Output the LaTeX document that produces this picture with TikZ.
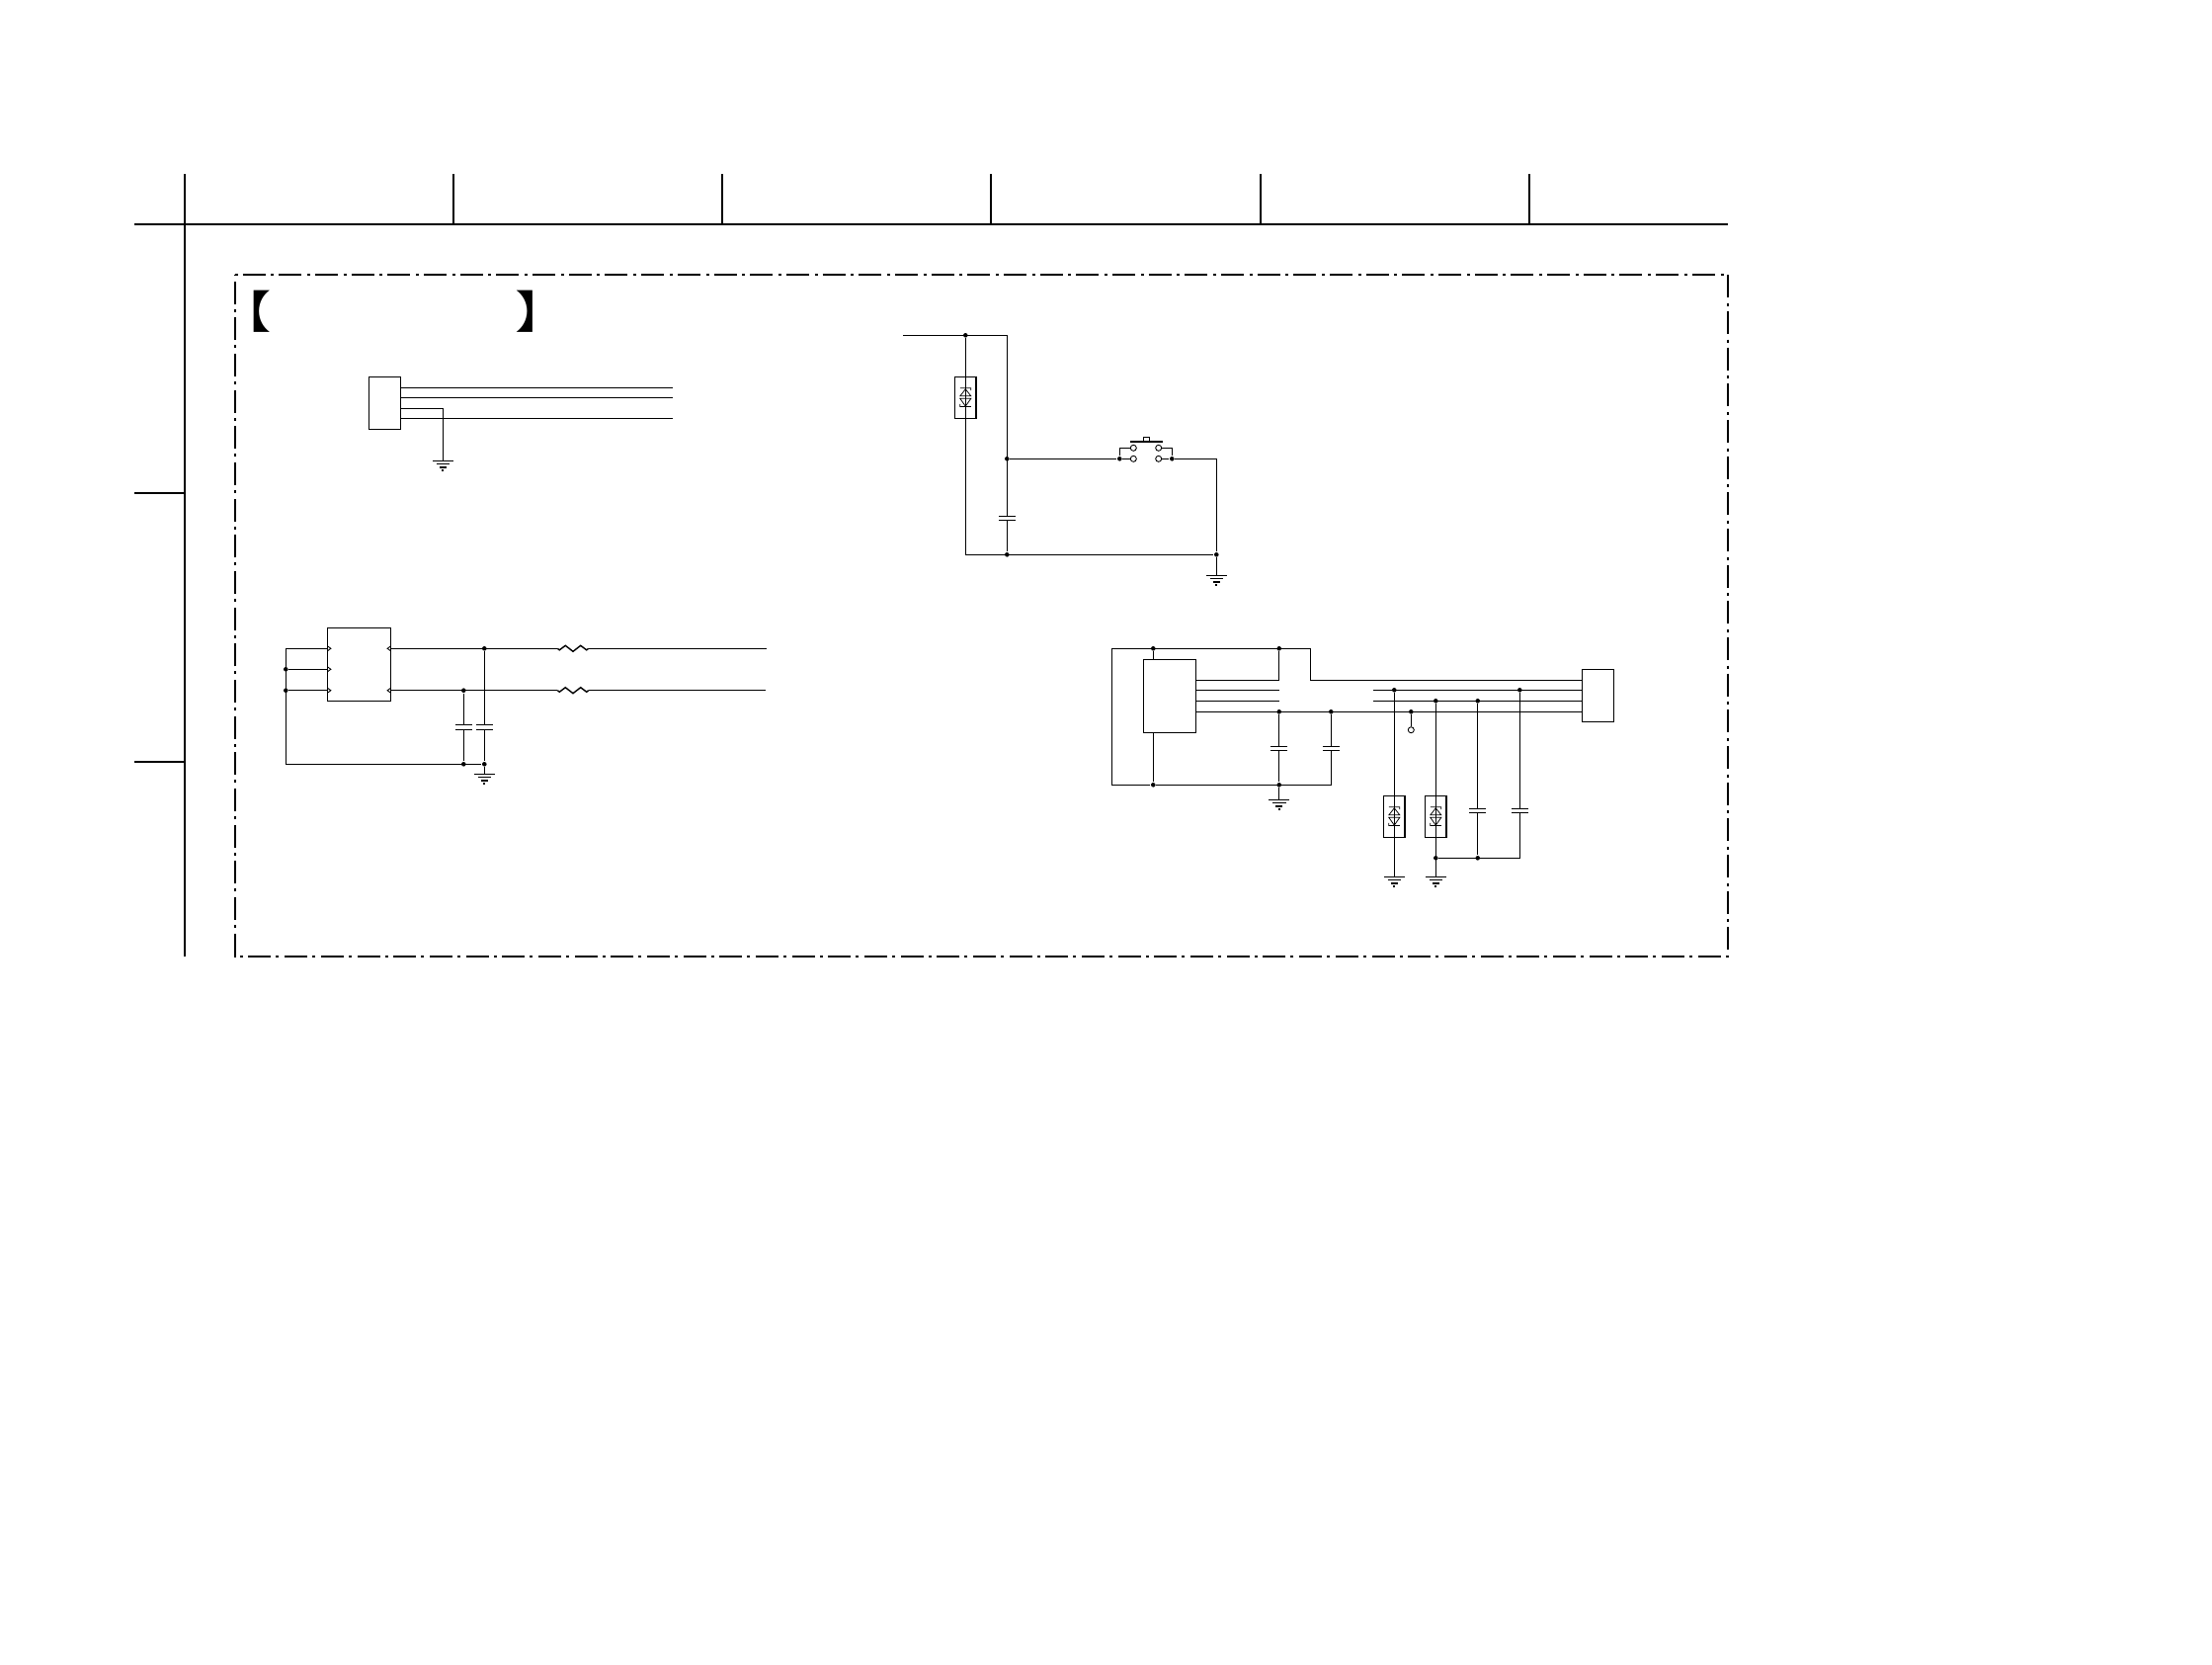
\documentclass[tikz,border=0pt]{standalone}
\usepackage{fontspec}
\usepackage{tikz}
\newfontfamily\cjk{Noto Sans CJK JP}

\tikzset{
    wire/.style={line width=0.4pt},
    rule/.style={line width=0.6pt},
    sheet/.style={line width=0.55pt, dash pattern=on 0.85pt off 1.42pt on 6.54pt off 1.62pt},
    dot/.style={draw=none, fill=black, circle, inner sep=0pt, minimum size=0.046cm},
    pad/.style={draw, fill=white, circle, inner sep=0pt, line width=0.25pt, minimum size=0.06cm},
    box/.style={draw, rectangle, inner sep=0pt, outer sep=0pt, line width=0.4pt},
    bracket/.style={inner sep=0pt, font=\cjk\fontsize{12.9}{12.9}\selectfont},
    pics/gnd/.style={code={
        \draw[wire] (-10.5,0) -- (10.5,0) (-6.8,3.3) -- (6.8,3.3) (-3.5,6.5) -- (3.5,6.5) (-1,9.7) -- (1,9.7);
    }},
    pics/cap/.style={code={
        \coordinate (-a) at (0,-#1);
        \coordinate (-b) at (0,#1);
        \draw[wire] (-8.5,-#1) -- (8.5,-#1) (-8.5,#1) -- (8.5,#1);
    }},
    pics/cap/.default=2,
    pics/res/.style={code={
        \coordinate (-a) at (0,0);
        \coordinate (-b) at (31.4,0);
        \draw[wire] (-a) -- (2,1.5) -- (8,-3) -- (15.7,3) -- (23.4,-3) -- (29.4,1.5) -- (-b);
    }},
    pics/tvs/.style={code={
        \node[box, minimum width=0.212cm, minimum height=0.42cm] at (0,0) {};
        \draw[line width=0.22pt] (-5.5,-9.5) -- (5.5,-9.5) -- (5.5,-7.3)
            (0,-8.5) -- (5.5,-1.5) -- (-5.5,-1.5) -- cycle
            (0,8.8) -- (5.5,1) -- (-5.5,1) -- cycle
            (-5.5,6.5) -- (-5.5,9.2) -- (5.5,9.2);
    }},
    pics/pinr/.style={code={
        \draw[line width=0.25pt] (0,-2.6) -- (3.6,0) -- (0,2.6);
    }},
    pics/pinl/.style={code={
        \draw[line width=0.25pt] (0,-2.6) -- (-3.6,0) -- (0,2.6);
    }}
}

\begin{document}
\begin{tikzpicture}[x=0.01cm, y=-0.01cm]
    \useasboundingbox (0,0) rectangle (2239,1684);

    % page grid
    \coordinate (top) at (186.7,176);
    \coordinate (corner) at (186.7,226.7);
    \coordinate (foot) at (186.7,967.7);
    \coordinate (gridl) at (136,226.7);
    \coordinate (gridr) at (1749,226.7);
    \draw[rule] (top) -- (foot);
    \draw[rule] (gridl) -- (gridr);
    \foreach \xa/\name in {458.7/a, 731/b, 1003/c, 1275.7/d, 1548/e} {
        \coordinate (tick\name) at (\xa,176);
        \draw[rule] (tick\name) -- (tick\name |- corner);
    }
    \foreach \ya/\name in {499/f, 771/g} {
        \coordinate (tick\name) at (136,\ya);
        \draw[rule] (tick\name) -- (tick\name -| corner);
    }

    \coordinate (sheeta) at (237.7,277.7);
    \coordinate (sheetb) at (1749,277.7);
    \coordinate (sheetc) at (1749,967.7);
    \coordinate (sheetd) at (237.7,967.7);
    \draw[sheet] (sheeta) -- (sheetb) -- (sheetc) -- (sheetd) -- cycle;

    \node[bracket] (open) at (248,315.5) {\scalebox{1.18}[1]{【}};
    \node[bracket] (close) at (548,315.5) {\scalebox{1.18}[1]{】}};

    % connector top left
    \node[box, minimum width=0.324cm, minimum height=0.534cm] (con1) at (389.5,408) {};
    \coordinate (con1a) at (680.7,392.3);
    \coordinate (con1b) at (680.7,402.3);
    \coordinate (con1c) at (448.3,413.3);
    \coordinate (con1d) at (680.7,423.3);
    \coordinate (gnd1) at (448.3,466.3);
    \draw[wire] (con1a -| con1.east) -- (con1a);
    \draw[wire] (con1b -| con1.east) -- (con1b);
    \draw[wire] (con1c -| con1.east) -- (con1c) -- (gnd1);
    \draw[wire] (con1d -| con1.east) -- (con1d);
    \pic at (gnd1) {gnd};

    % regulator
    \node[box, minimum width=0.644cm, minimum height=0.74cm] (reg) at (363.5,672.3) {};
    \node[dot] (reg1) at (289.3,677.3) {};
    \node[dot] (reg2) at (289.3,698.7) {};
    \node[dot] (reg3) at (490.3,656.3) {};
    \node[dot] (reg4) at (469.3,698.7) {};
    \node[dot] (reg5) at (469.3,773.3) {};
    \node[dot] (reg6) at (490.3,773.3) {};
    \coordinate (rega) at (289.3,656.3);
    \coordinate (regb) at (289.3,773.3);
    \coordinate (gnd2) at (490.3,783.3);
    \coordinate (outa) at (776,656.3);
    \coordinate (outb) at (775,698.7);
    \pic (c1) at (469.3,736) {cap=2.6};
    \pic (c2) at (490.3,736) {cap=2.6};
    \pic (r1) at (564.3,656.3) {res};
    \pic (r2) at (564.3,698.7) {res};
    \draw[wire] (rega -| reg.west) -- (rega) -- (regb) -- (reg6) -- (gnd2);
    \draw[wire] (reg1) -- (reg1 -| reg.west);
    \draw[wire] (reg2) -- (reg2 -| reg.west);
    \draw[wire] (reg3 -| reg.east) -- (r1-a) (r1-b) -- (outa);
    \draw[wire] (reg4 -| reg.east) -- (r2-a) (r2-b) -- (outb);
    \draw[wire] (reg4) -- (c1-a) (c1-b) -- (reg5);
    \draw[wire] (reg3) -- (c2-a) (c2-b) -- (reg6);
    \pic at (gnd2) {gnd};
    \pic at (rega -| reg.west) {pinr};
    \pic at (reg1 -| reg.west) {pinr};
    \pic at (reg2 -| reg.west) {pinr};
    \pic at (reg3 -| reg.east) {pinl};
    \pic at (reg4 -| reg.east) {pinl};

    % reset switch
    \coordinate (swin) at (914,339.3);
    \coordinate (swa) at (1019.3,339.3);
    \coordinate (swb) at (977.3,561.3);
    \coordinate (gnd3) at (1231.3,582.3);
    \coordinate (swc) at (1231.3,464.3);
    \node[dot] (sw1) at (977.3,339.3) {};
    \node[dot] (sw2) at (1019.3,464.3) {};
    \node[dot] (sw3) at (1019.3,561.3) {};
    \node[dot] (sw4) at (1231.3,561.3) {};
    \node[dot] (sw5) at (1133.3,464.3) {};
    \node[dot] (sw6) at (1186.3,464.3) {};
    \node[pad] (sw7) at (1147.3,464.3) {};
    \node[pad] (sw8) at (1147.3,453.3) {};
    \node[pad] (sw9) at (1172.7,464.3) {};
    \node[pad] (sw10) at (1172.7,453.3) {};
    \node[box, fill=white, minimum width=0.064cm, minimum height=0.05cm] (swcap) at (1160.5,444.7) {};
    \coordinate (swbara) at (1144,447);
    \coordinate (swbarb) at (1176.7,447);
    \pic (c3) at (1019.3,524.3) {cap};
    \pic at (977.3,402.3) {tvs};
    \draw[wire] (swin) -- (swa) -- (c3-a) (c3-b) -- (sw3);
    \draw[wire] (sw1) -- (swb) -- (sw4) -- (gnd3);
    \draw[wire] (sw2) -- (sw5) -- (sw7);
    \draw[wire] (sw5) |- (sw8);
    \draw[wire] (sw9) -- (sw6) -- (swc) -- (sw4);
    \draw[wire] (sw10) -| (sw6);
    \draw[line width=0.6pt] (swbara) -- (swbarb);
    \pic at (gnd3) {gnd};

    % chip and connector bottom right
    \node[box, minimum width=0.534cm, minimum height=0.74cm] (ic) at (1184,704.3) {};
    \node[box, minimum width=0.32cm, minimum height=0.534cm] (con2) at (1617.3,704) {};
    \node[dot] (ic1) at (1167.3,656.3) {};
    \node[dot] (ic2) at (1294.7,656.3) {};
    \node[dot] (ic3) at (1167.3,794.3) {};
    \node[dot] (ic4) at (1294.7,794.3) {};
    \node[dot] (ic5) at (1294.7,720.3) {};
    \node[dot] (ic6) at (1347.3,720.3) {};
    \node[dot] (ic7) at (1428.3,720.3) {};
    \node[dot] (ic8) at (1411.3,698.3) {};
    \node[dot] (ic9) at (1538.3,698.3) {};
    \node[dot] (ic10) at (1453.3,709.3) {};
    \node[dot] (ic11) at (1495.7,709.3) {};
    \node[dot] (ic12) at (1453.3,868.3) {};
    \node[dot] (ic13) at (1495.7,868.3) {};
    \node[pad] (test) at (1428.3,738.7) {};
    \coordinate (ica) at (1125.3,656.3);
    \coordinate (icb) at (1125.3,794.3);
    \coordinate (icc) at (1347.3,794.3);
    \coordinate (icd) at (1326.7,656.3);
    \coordinate (ice) at (1326.7,688.3);
    \coordinate (icf) at (1294.7,688.3);
    \coordinate (icg) at (1294.7,698.3);
    \coordinate (ich) at (1294.7,709.3);
    \coordinate (ici) at (1390,698.3);
    \coordinate (icj) at (1390,709.3);
    \coordinate (ick) at (1538.3,868.3);
    \coordinate (gnd4) at (1294.7,809.3);
    \coordinate (gnd5) at (1411.3,887.3);
    \coordinate (gnd6) at (1453.3,887.3);
    \pic (c4) at (1294.7,757.3) {cap};
    \pic (c5) at (1347.3,757.3) {cap};
    \pic (c6) at (1495.7,820.3) {cap};
    \pic (c7) at (1538.3,820.3) {cap};
    \pic at (1411.3,826.3) {tvs};
    \pic at (1453.3,826.3) {tvs};
    \draw[wire] (ic3) -- (icb) -- (ica) -- (icd) -- (ice) -- (ice -| con2.west);
    \draw[wire] (ic1) -- (ic1 |- ic.north);
    \draw[wire] (ic3) -- (ic3 |- ic.south);
    \draw[wire] (icf -| ic.east) -- (icf) -- (ic2);
    \draw[wire] (icg -| ic.east) -- (icg);
    \draw[wire] (ich -| ic.east) -- (ich);
    \draw[wire] (ic5 -| ic.east) -- (ic5 -| con2.west);
    \draw[wire] (ici) -- (ici -| con2.west);
    \draw[wire] (icj) -- (icj -| con2.west);
    \draw[wire] (ic5) -- (c4-a) (c4-b) -- (ic4) -- (gnd4);
    \draw[wire] (ic3) -- (icc) -- (c5-b) (c5-a) -- (ic6);
    \draw[wire] (ic7) -- (test);
    \draw[wire] (ic8) -- (gnd5);
    \draw[wire] (ic10) -- (gnd6);
    \draw[wire] (ic12) -- (ick) -- (c7-b) (c7-a) -- (ic9);
    \draw[wire] (ic11) -- (c6-a) (c6-b) -- (ic13);
    \pic at (gnd4) {gnd};
    \pic at (gnd5) {gnd};
    \pic at (gnd6) {gnd};
\end{tikzpicture}
\end{document}
